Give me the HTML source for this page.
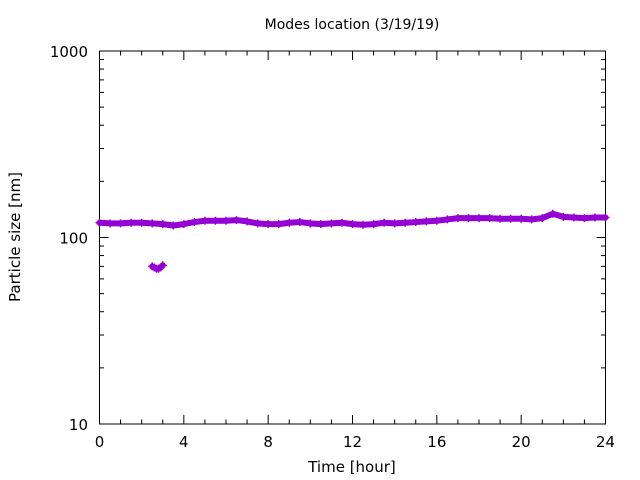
<!DOCTYPE html>
<html><head><meta charset="utf-8"><style>
body{margin:0;background:#fff;}
svg{display:block;font-family:"DejaVu Sans","Liberation Sans",sans-serif;}
</style></head><body>
<svg id="chart" width="640" height="480"></svg>
<script>
const hours=[0,0.5,1,1.5,2,2.5,3,3.5,4,4.5,5,5.5,6,6.5,7,7.5,8,8.5,9,9.5,10,10.5,11,11.5,12,12.5,13,13.5,14,14.5,15,15.5,16,16.5,17,17.5,18,18.5,19,19.5,20,20.5,21,21.5,22,22.5,23,23.5,24];
const mainMode=[120,119,119,120,120,119,118,116,118,121,123,123,123,124,122,119,118,118,120,121,119,118,119,120,118,117,118,120,119,120,121,122,123,125,127,127,127,127,126,126,126,125,127,134,129,128,127,128,128];
const dipHours=[2.5,2.6,2.7,2.8,2.9,3.0];
const dipMode=[70,69,68,68,69,71];
const xTicks=[0,4,8,12,16,20,24];
const yTicks=[10,100,1000];

const NS="http://www.w3.org/2000/svg";
const svg=document.getElementById('chart');
const L=99.5,R=605.5,T=51,B=424;
const xs=h=>L+(h/24)*(R-L);
const ys=v=>B-(Math.log10(v)-1)/2*(B-T);
function mk(tag,attrs,parent){const e=document.createElementNS(NS,tag);for(const k in attrs)e.setAttribute(k,attrs[k]);(parent||svg).appendChild(e);return e;}

const title=mk('text',{x:352,y:29,'text-anchor':'middle','font-size':14});
title.textContent='Modes location (3/19/19)';



const axes=mk('g',{stroke:'#000','stroke-width':1,fill:'none'});


mk('rect',{x:L,y:T,width:R-L,height:B-T},axes);
for(let h=0;h<=24;h++){
  const len=h%4===0?9:4.5;const x=xs(h);
  mk('line',{x1:x,y1:B,x2:x,y2:B-len},axes);
  mk('line',{x1:x,y1:T,x2:x,y2:T+len},axes);
}
for(let d=10;d<1000;d*=10){
  for(let m=1;m<10;m++){
    const v=d*m;const y=ys(v);const len=m===1?9:4.5;
    mk('line',{x1:L,y1:y,x2:L+len,y2:y},axes);
    mk('line',{x1:R,y1:y,x2:R-len,y2:y},axes);
  }
}
xTicks.forEach(h=>{
  const t=mk('text',{x:xs(h),y:447,'text-anchor':'middle','font-size':15});
  t.textContent=h;
  
  
});
yTicks.forEach(v=>{
  const t=mk('text',{x:88,y:ys(v)+6,'text-anchor':'end','font-size':15});
  t.textContent=v;
  
  
});
const xt=mk('text',{x:352,y:472,'text-anchor':'middle','font-size':15});
xt.textContent='Time [hour]';


const yt=mk('text',{x:0,y:0,'text-anchor':'middle','font-size':15,transform:'translate(20,237) rotate(-90)'});
yt.textContent='Particle size [nm]';



function series(hs,vs,name){
  const g=mk('g',{});
  
  
  mk('polyline',{points:hs.map((h,i)=>xs(h)+','+ys(vs[i])).join(' '),fill:'none',stroke:'#9400d3','stroke-width':6,'stroke-linejoin':'round','stroke-linecap':'round'},g);
  hs.forEach((h,i)=>{
    const p=mk('path',{d:`M${xs(h)-4},${ys(vs[i])}h8M${xs(h)},${ys(vs[i])-4}v8`,stroke:'#9400d3','stroke-width':1.5},g);
    
    
  });
}
series(hours,mainMode,'main-mode-series');
series(dipHours,dipMode,'secondary-mode-series');
</script>
</body></html>
